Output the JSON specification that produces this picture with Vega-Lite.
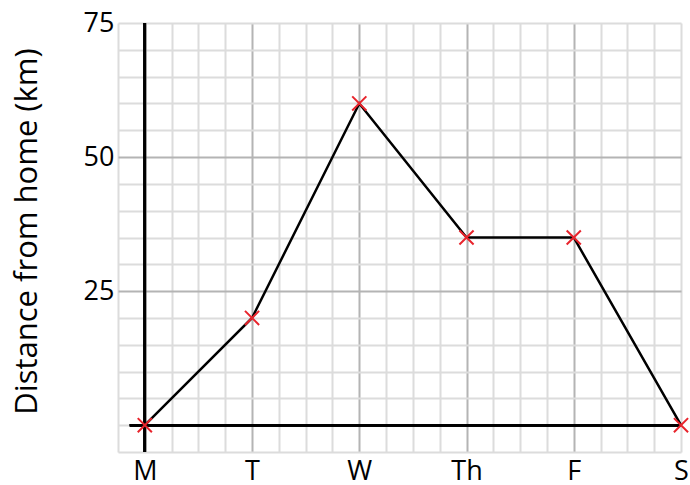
{
  "$schema": "https://vega.github.io/schema/vega-lite/v6.json",
  "width": 563,
  "height": 429,
  "autosize": {"type": "none"},
  "padding": {"left": 118, "top": 23, "right": 9, "bottom": 33},
  "background": "white",
  "config": {
    "font": "Open Sans",
    "view": {"stroke": null},
    "axis": {"labelFont": "Open Sans", "titleFont": "Open Sans"}
  },
  "data": {
    "values": [
      {"day": "M", "i": 0, "km": 0},
      {"day": "T", "i": 1, "km": 20},
      {"day": "W", "i": 2, "km": 60},
      {"day": "Th", "i": 3, "km": 35},
      {"day": "F", "i": 4, "km": 35},
      {"day": "S", "i": 5, "km": 0}
    ]
  },
  "encoding": {
    "x": {
      "field": "i",
      "type": "quantitative",
      "scale": {"domain": [-0.25, 5], "nice": false, "zero": false},
      "axis": {
        "title": null,
        "values": [-0.25, 0, 0.25, 0.5, 0.75, 1, 1.25, 1.5, 1.75, 2, 2.25, 2.5, 2.75, 3, 3.25, 3.5, 3.75, 4, 4.25, 4.5, 4.75, 5],
        "labelExpr": "datum.value % 1 === 0 ? ['M','T','W','Th','F','S'][datum.value] : ''",
        "labelFontSize": 27,
        "labelColor": "black",
        "labelPadding": 6,
        "labelFlush": false,
        "labelOverlap": false,
        "domain": false,
        "ticks": false,
        "grid": true,
        "gridWidth": 2,
        "gridOpacity": 1,
        "gridColor": {"condition": {"test": "datum.value >= 1 && datum.value <= 4 && datum.value % 1 === 0", "value": "#b4b4b4"}, "value": "#dcdcdc"}
      }
    },
    "y": {
      "field": "km",
      "type": "quantitative",
      "scale": {"domain": [-5, 75], "nice": false, "zero": false},
      "axis": {
        "title": "Distance from home (km)",
        "titleFontSize": 31,
        "titleFontWeight": "normal",
        "titleColor": "black",
        "titlePadding": 40,
        "titleY": 208,
        "values": [-5, 0, 5, 10, 15, 20, 25, 30, 35, 40, 45, 50, 55, 60, 65, 70, 75],
        "labelExpr": "datum.value > 0 && datum.value % 25 === 0 ? datum.label : ''",
        "labelFontSize": 27,
        "labelColor": "black",
        "labelPadding": 4,
        "labelFlush": false,
        "labelOverlap": false,
        "labelBaseline": "middle",
        "domain": false,
        "ticks": false,
        "grid": true,
        "gridWidth": 2,
        "gridOpacity": 1,
        "gridColor": {"condition": {"test": "datum.value === 25 || datum.value === 50", "value": "#b4b4b4"}, "value": "#dcdcdc"}
      }
    }
  },
  "layer": [
    {
      "mark": {"type": "rule", "color": "black", "strokeWidth": 2.5},
      "encoding": {"x": {"datum": 0}, "y": null}
    },
    {
      "mark": {"type": "rule", "color": "black", "strokeWidth": 2.5},
      "encoding": {"y": {"datum": 0}, "x": {"datum": -0.14}, "x2": {"datum": 5}}
    },
    {
      "mark": {"type": "line", "color": "black", "strokeWidth": 2.5}
    },
    {
      "mark": {"type": "point", "shape": "M-1,-1L1,1M-1,1L1,-1", "filled": false, "stroke": "#e8242c", "strokeWidth": 2, "size": 200, "opacity": 1}
    }
  ]
}
